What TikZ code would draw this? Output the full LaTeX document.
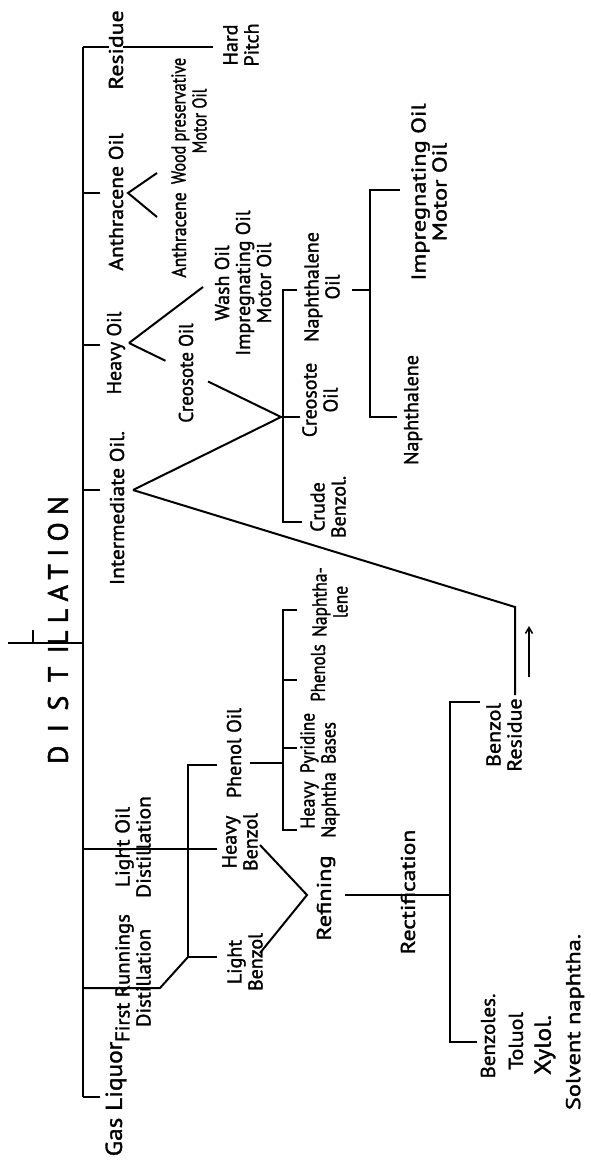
\documentclass[tikz,border=0pt]{standalone}
\usepackage{fontspec}
\setmainfont{PT Sans}
\newfontfamily\lblfam{PT Sans}[FakeBold=1.4]
\newfontfamily\titlefam{PT Sans}[LetterSpace=26,FakeBold=1.8]
\usetikzlibrary{calc,arrows.meta}
\begin{document}
\begin{tikzpicture}[x=1pt,y=-1pt,
  wire/.style={draw=black,line width=2pt},
  lbl/.style={rotate=90,inner sep=0pt,align=center,font=\lblfam\fontsize{20}{21}\selectfont},
  ttl/.style={rotate=90,inner sep=0pt,font=\titlefam\fontsize{28}{30}\selectfont}]
\useasboundingbox[fill=white] (0,0) rectangle (591,1162);

% ---------- coordinates ----------
\coordinate (busT) at (83,47);
\coordinate (busB) at (83,1097);
\coordinate (resE) at (213,47);
\coordinate (anB) at (83,193);   \coordinate (anT) at (100,193);
\coordinate (hvB) at (83,345);   \coordinate (hvT) at (100,345);
\coordinate (imB) at (83,490);   \coordinate (imT) at (100,490);
\coordinate (gaB) at (83,1097);  \coordinate (gaT) at (100,1097);
\coordinate (tiB) at (83,643);   \coordinate (tiA) at (8,643);
\coordinate (tkA) at (33,630);   \coordinate (tkB) at (33,643);
\coordinate (anF) at (128,193);  \coordinate (anU) at (157,173); \coordinate (anD) at (157,217);
\coordinate (hvF) at (129,343);  \coordinate (hvU) at (203,287);
\coordinate (jA) at (281,417);
\coordinate (imF) at (133,490);  \coordinate (imK) at (515,607); \coordinate (imE) at (515,695);
\coordinate (aT) at (283,290);   \coordinate (aTt) at (297,290);
\coordinate (aMt) at (300,417);
\coordinate (aB) at (283,522);   \coordinate (aBt) at (302,522);
\coordinate (noS) at (352,290);  \coordinate (bM) at (370,290);
\coordinate (bT) at (370,190);   \coordinate (bTt) at (400,190);
\coordinate (bB) at (370,417);   \coordinate (bBt) at (397,417);
\coordinate (arS) at (529,677);  \coordinate (arE) at (529,626);
\coordinate (loB) at (83,849);   \coordinate (loE) at (217,849);
\coordinate (frB) at (83,988);   \coordinate (frK) at (160,988);
\coordinate (cT) at (188,765);   \coordinate (cTt) at (217,765);
\coordinate (cB) at (188,957);   \coordinate (cBt) at (217,957);
\coordinate (phS) at (250,763);  \coordinate (dM) at (283,763);
\coordinate (dT) at (283,610);   \coordinate (dTt) at (297,610);
\coordinate (d2) at (283,680);   \coordinate (d2t) at (297,680);
\coordinate (d3) at (283,748);   \coordinate (d3t) at (297,748);
\coordinate (dB) at (283,830);   \coordinate (dBt) at (297,830);
\coordinate (rfU) at (260,845);  \coordinate (rfV) at (307,895); \coordinate (rfD) at (260,953);
\coordinate (rfS) at (345,895);  \coordinate (eM) at (450,895);
\coordinate (eT) at (450,702);   \coordinate (eTt) at (480,702);
\coordinate (eB) at (450,1042);  \coordinate (eBt) at (477,1042);

% ---------- connectors ----------
\draw[wire] (busT) -- (busB);
\draw[wire] (busT) -- (resE);
\draw[wire] (anB) -- (anT);
\draw[wire] (hvB) -- (hvT);
\draw[wire] (imB) -- (imT);
\draw[wire] (gaB) -- (gaT);
\draw[wire] (tiA) -- (tiB);
\draw[wire] (tkA) -- (tkB);
\draw[wire] (anU) -- (anF) -- (anD);
\draw[wire] (hvF) -- (hvU);
\draw[wire] (hvF) -- ($(hvF)!0.24!(jA)$);
\draw[wire] ($(hvF)!0.52!(jA)$) -- (jA);
\draw[wire] (imF) -- (jA);
\draw[wire] (imF) -- (imK) -- (imE);
\draw[wire] (aTt) -- (aT) -- (aB) -- (aBt);
\draw[wire] (jA) -- (aMt);
\draw[wire] (noS) -- (bM);
\draw[wire] (bTt) -- (bT) -- (bB) -- (bBt);
\draw[line width=1.5pt,-{Straight Barb[length=6pt,width=7pt]}] (arS) -- (arE);
\draw[wire] (loB) -- (loE);
\draw[wire] (frB) -- (frK) -- (cB);
\draw[wire] (cTt) -- (cT) -- (cB) -- (cBt);
\draw[wire] (phS) -- (dM);
\draw[wire] (dTt) -- (dT) -- (dB) -- (dBt);
\draw[wire] (d2) -- (d2t);
\draw[wire] (d3) -- (d3t);
\draw[wire] (rfU) -- (rfV) -- (rfD);
\draw[wire] (rfS) -- (eM);
\draw[wire] (eTt) -- (eT) -- (eB) -- (eBt);

% ---------- labels ----------
\node[ttl] (title) at (58,630) {{\addfontfeature{LetterSpace=48}DISTI}LLATION};
\node[lbl,xscale=1.19,fill=white,inner xsep=1pt] (residue) at (116,50) {Residue};
\node[lbl] (hardpitch) at (241,45) {Hard\\Pitch};
\node[lbl,xscale=1.08] (anthoil) at (116,202) {Anthracene Oil};
\node[lbl,xscale=0.88] (anth) at (179,235) {Anthracene};
\node[lbl,xscale=0.8] (wood) at (189,121) {Wood preservative\\Motor Oil};
\node[lbl] (heavyoil) at (116,353) {Heavy Oil};
\node[lbl,xscale=0.95] (creo1) at (186,373) {Creosote Oil};
\node[lbl] (wash) at (243,283) {Wash Oil\\Impregnating Oil\\Motor Oil};
\node[lbl,xscale=1.07] (interm) at (117,508) {Intermediate Oil.};
\node[lbl] (crude) at (328,507) {Crude\\Benzol.};
\node[lbl] (creo2) at (320,400) {Creosote\\Oil};
\node[lbl] (naphoil) at (322,287) {Naphthalene\\Oil};
\node[lbl,xscale=1.22] (impreg) at (429,192) {Impregnating Oil\\Motor Oil};
\node[lbl] (naphth) at (413,410) {Naphthalene};
\node[lbl,xscale=1.1] (bres) at (504,735) {Benzol\\Residue};
\node[lbl,xscale=0.87] (naphlene) at (330,602) {Naphtha-\\lene};
\node[lbl,xscale=0.84] (phenols) at (318,673) {Phenols};
\node[lbl,xscale=0.86] (pyrid) at (318,743) {Pyridine\\Bases};
\node[lbl,xscale=0.9] (hnaph) at (320,805) {Heavy\\Naphtha};
\node[lbl] (phenoil) at (234,753) {Phenol Oil};
\node[lbl,xscale=1.08] (lightoil) at (133,847) {Light Oil\\Distillation};
\node[lbl,xscale=1.04] (firstrun) at (133,978) {First Runnings\\Distillation};
\node[lbl,xscale=1.1,font=\lblfam\fontsize{23}{23}\selectfont] (gasliq) at (116,1099) {Gas Liquor};
\node[lbl] (hbenz) at (240,842) {Heavy\\Benzol};
\node[lbl] (lbenz) at (245,962) {Light\\Benzol};
\node[lbl,xscale=1.22] (refining) at (326,898) {Refining};
\node[lbl,xscale=1.18] (rect) at (408,892) {Rectification};
\node[lbl,xscale=1.05] (benzoles) at (488,1036) {Benzoles.};
\node[lbl,xscale=1.1] (toluol) at (516,1041) {Toluol};
\node[lbl,xscale=1.1,font=\lblfam\fontsize{23}{23}\selectfont] (xylol) at (545,1045) {Xylol.};
\node[lbl,xscale=1.22] (solvent) at (575,1022) {Solvent naphtha.};
\end{tikzpicture}
\end{document}
